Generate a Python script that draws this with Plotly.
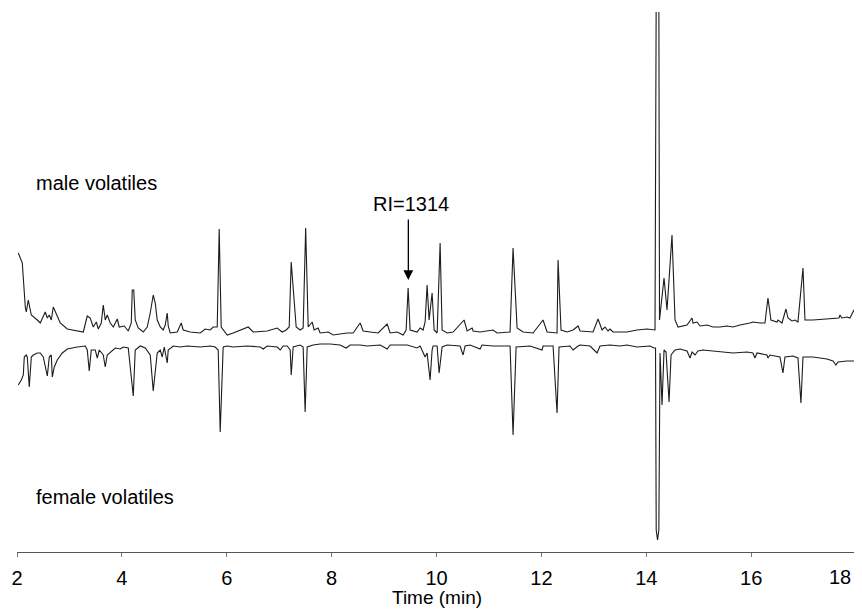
import plotly.graph_objects as go

# Retention time (min) and detector response (arbitrary units, display offset)
male_time = [2.025, 2.101, 2.158, 2.177, 2.215, 2.273, 2.387, 2.444, 2.539, 2.578, 2.616, 2.654, 2.692, 2.730,
             2.825, 2.959, 3.264, 3.340, 3.397, 3.454, 3.512, 3.550, 3.607, 3.645, 3.683, 3.721, 3.778, 3.836,
             3.912, 3.950, 4.045, 4.122, 4.179, 4.198, 4.226, 4.255, 4.312, 4.408, 4.484, 4.541, 4.598, 4.636,
             4.674, 4.732, 4.789, 4.827, 4.865, 4.884, 4.922, 5.056, 5.132, 5.170, 5.303, 5.494, 5.589, 5.685,
             5.742, 5.818, 5.856, 5.894, 6.009, 6.123, 6.257, 6.409, 6.504, 6.771, 6.962, 7.057, 7.133, 7.191,
             7.229, 7.286, 7.324, 7.400, 7.457, 7.505, 7.553, 7.629, 7.667, 7.743, 7.781, 7.934, 8.029, 8.296,
             8.411, 8.544, 8.601, 8.735, 8.887, 9.059, 9.116, 9.249, 9.364, 9.421, 9.459, 9.497, 9.630, 9.688,
             9.745, 9.783, 9.821, 9.859, 9.916, 9.955, 10.012, 10.069, 10.107, 10.202, 10.317, 10.526, 10.584,
             10.679, 10.698, 10.831, 11.079, 11.155, 11.403, 11.460, 11.537, 11.651, 11.842, 12.032, 12.109,
             12.299, 12.318, 12.375, 12.490, 12.604, 12.700, 12.738, 12.985, 13.081, 13.157, 13.214, 13.271,
             13.309, 13.367, 13.633, 13.824, 14.015, 14.167, 14.190, 14.215, 14.240, 14.253, 14.339, 14.396,
             14.491, 14.549, 14.606, 14.777, 14.873, 14.892, 14.968, 15.025, 15.158, 15.273, 15.406, 15.540,
             15.654, 15.788, 15.978, 16.035, 16.169, 16.264, 16.321, 16.378, 16.493, 16.512, 16.588, 16.664,
             16.703, 16.779, 16.836, 16.893, 16.989, 17.027, 17.179, 17.446, 17.675, 17.694, 17.732, 17.827,
             17.885, 17.960, 18.020]
male_signal = [299, 289, 245, 240, 252, 237, 232, 229, 240, 234, 237, 232, 245, 240,
               229, 223, 220, 236, 234, 225, 230, 223, 229, 247, 232, 237, 229, 225,
               233, 225, 226, 221, 229, 262, 262, 232, 224, 220, 225, 239, 257, 249,
               232, 225, 222, 227, 239, 226, 219, 220, 229, 222, 220, 219, 223, 222,
               225, 225, 323, 225, 217, 219, 222, 225, 220, 221, 224, 220, 222, 225,
               290, 245, 225, 222, 224, 324, 225, 230, 222, 224, 219, 220, 217, 219,
               219, 229, 221, 220, 219, 228, 219, 220, 217, 222, 264, 222, 220, 224,
               222, 230, 267, 232, 259, 222, 219, 309, 222, 219, 220, 232, 221,
               224, 221, 220, 222, 219, 220, 304, 224, 220, 219, 232, 220,
               219, 292, 222, 220, 222, 226, 221, 220, 233, 222, 225, 221,
               223, 220, 220, 222, 223, 222, 560, 620, 560, 232, 274, 242,
               317, 232, 225, 227, 234, 229, 230, 226, 227, 225, 225, 226,
               225, 227, 229, 230, 229, 229, 254, 232, 230, 232, 229, 243,
               234, 231, 232, 230, 284, 232, 232, 233, 234, 237, 234, 235,
               234, 242, 235]

female_time = [2.025, 2.082, 2.120, 2.139, 2.177, 2.196, 2.234, 2.273, 2.311, 2.387, 2.444, 2.501, 2.578, 2.616,
               2.654, 2.673, 2.711, 2.768, 2.864, 2.959, 3.149, 3.302, 3.340, 3.378, 3.416, 3.493, 3.531, 3.569,
               3.645, 3.683, 3.721, 3.817, 3.874, 3.969, 4.026, 4.122, 4.217, 4.255, 4.351, 4.446, 4.541, 4.598,
               4.674, 4.732, 4.770, 4.808, 4.865, 4.884, 4.979, 5.113, 5.246, 5.494, 5.685, 5.780, 5.837, 5.875,
               5.932, 6.009, 6.123, 6.390, 6.638, 6.695, 6.771, 6.962, 7.019, 7.076, 7.152, 7.210, 7.229, 7.267,
               7.400, 7.457, 7.495, 7.534, 7.648, 7.781, 7.972, 8.162, 8.277, 8.353, 8.544, 8.677, 8.925, 9.059,
               9.116, 9.440, 9.630, 9.688, 9.783, 9.821, 9.878, 9.916, 9.935, 10.012, 10.050, 10.107, 10.202,
               10.450, 10.507, 10.545, 10.641, 10.831, 10.869, 11.079, 11.403, 11.460, 11.518, 11.785, 12.013,
               12.032, 12.223, 12.299, 12.337, 12.547, 12.604, 12.700, 12.738, 12.928, 13.062, 13.119, 13.309,
               13.500, 13.633, 13.824, 14.072, 14.148, 14.177, 14.190, 14.215, 14.240, 14.253, 14.263, 14.301,
               14.339, 14.377, 14.435, 14.473, 14.549, 14.644, 14.777, 14.835, 14.873, 14.930, 14.987, 15.082,
               15.273, 15.540, 15.654, 15.921, 16.035, 16.073, 16.112, 16.302, 16.321, 16.359, 16.550, 16.607,
               16.645, 16.798, 16.893, 16.950, 16.989, 17.179, 17.446, 17.561, 17.618, 17.656, 17.827, 17.980]
female_signal = [167, 172, 177, 195, 197, 195, 165, 195, 197, 199, 199, 195, 176, 195,
                 197, 175, 185, 192, 199, 203, 205, 206, 202, 181, 202, 202, 194, 202,
                 197, 185, 197, 202, 204, 203, 205, 204, 156, 202, 206, 204, 197, 161,
                 199, 202, 195, 205, 189, 202, 206, 205, 206, 205, 206, 205, 202, 120,
                 205, 206, 205, 206, 205, 203, 206, 205, 202, 206, 206, 202, 177, 205,
                 207, 205, 140, 205, 207, 208, 208, 207, 204, 207, 207, 206, 207, 203,
                 207, 207, 204, 206, 195, 199, 172, 202, 206, 206, 179, 205, 207,
                 206, 197, 206, 207, 203, 207, 206, 206, 117, 205, 206, 202,
                 206, 206, 139, 205, 206, 202, 206, 207, 206, 199, 206, 207,
                 206, 207, 205, 206, 204, 204, 22, 12, 22, 197, 199, 147,
                 202, 200, 150, 197, 202, 203, 201, 194, 200, 197, 201, 202,
                 201, 200, 199, 200, 199, 194, 199, 197, 194, 197, 195, 179,
                 195, 196, 194, 149, 195, 195, 193, 191, 187, 190, 191, 191]

x_ticks = [2, 4, 6, 8, 10, 12, 14, 16, 18]
x_tick_labels = ["2", "4", "6", "8", "10", "12", "14", "16", "18"]

FONT = "Liberation Sans, Arial, sans-serif"
LINE = dict(color="#1c1c1c", width=1.1)

fig = go.Figure()
fig.add_trace(go.Scatter(x=male_time, y=male_signal, mode="lines", line=LINE, name="male volatiles",
                         showlegend=False, hoverinfo="skip"))
fig.add_trace(go.Scatter(x=female_time, y=female_signal, mode="lines", line=LINE, name="female volatiles",
                         showlegend=False, hoverinfo="skip"))

fig.add_annotation(x=2.33, y=369, xref="x", yref="y", text="male volatiles", showarrow=False,
                   xanchor="left", yanchor="middle", font=dict(family=FONT, size=20, color="black"))
fig.add_annotation(x=2.33, y=55, xref="x", yref="y", text="female volatiles", showarrow=False,
                   xanchor="left", yanchor="middle", font=dict(family=FONT, size=20, color="black"))
fig.add_annotation(x=9.51, y=348, xref="x", yref="y", text="RI=1314", showarrow=False,
                   xanchor="center", yanchor="middle", font=dict(family=FONT, size=20, color="black"))
fig.add_annotation(x=9.463, y=272, xref="x", yref="y", ax=9.463, ay=334, axref="x", ayref="y",
                   text="", showarrow=True, arrowhead=2, arrowsize=1.5, arrowwidth=1.3, arrowcolor="black")
fig.add_annotation(x=0.5, y=-0.085, xref="paper", yref="paper", text="Time (min)", showarrow=False,
                   xanchor="center", yanchor="middle", font=dict(family=FONT, size=19, color="black"))
# last tick label, pulled inside the right edge as in the reference
fig.add_annotation(x=x_ticks[-1], y=-0.047, xref="x", yref="paper", text=x_tick_labels[-1], showarrow=False,
                   xanchor="right", yanchor="middle", xshift=-3, font=dict(family=FONT, size=20, color="black"))

# The page body adds an 8px offset, so the figure is 8px smaller in each direction
fig.update_layout(
    width=854, height=604,
    margin=dict(l=9, r=6, t=4, b=60, autoexpand=False),
    paper_bgcolor="white", plot_bgcolor="white",
    font=dict(family=FONT, color="black"),
    xaxis=dict(range=[2, 18], tickvals=x_ticks, ticktext=x_tick_labels[:-1] + [""], automargin=False,
               ticklabeloverflow="allow", ticklabelstandoff=4,
               showgrid=False, zeroline=False, showline=True, linecolor="#555555", linewidth=1,
               ticks="outside", ticklen=4, tickcolor="#777777", tickwidth=1,
               tickfont=dict(family=FONT, size=20, color="black")),
    yaxis=dict(range=[0, 540], visible=False, automargin=False),
)

fig.write_html("out.html")
